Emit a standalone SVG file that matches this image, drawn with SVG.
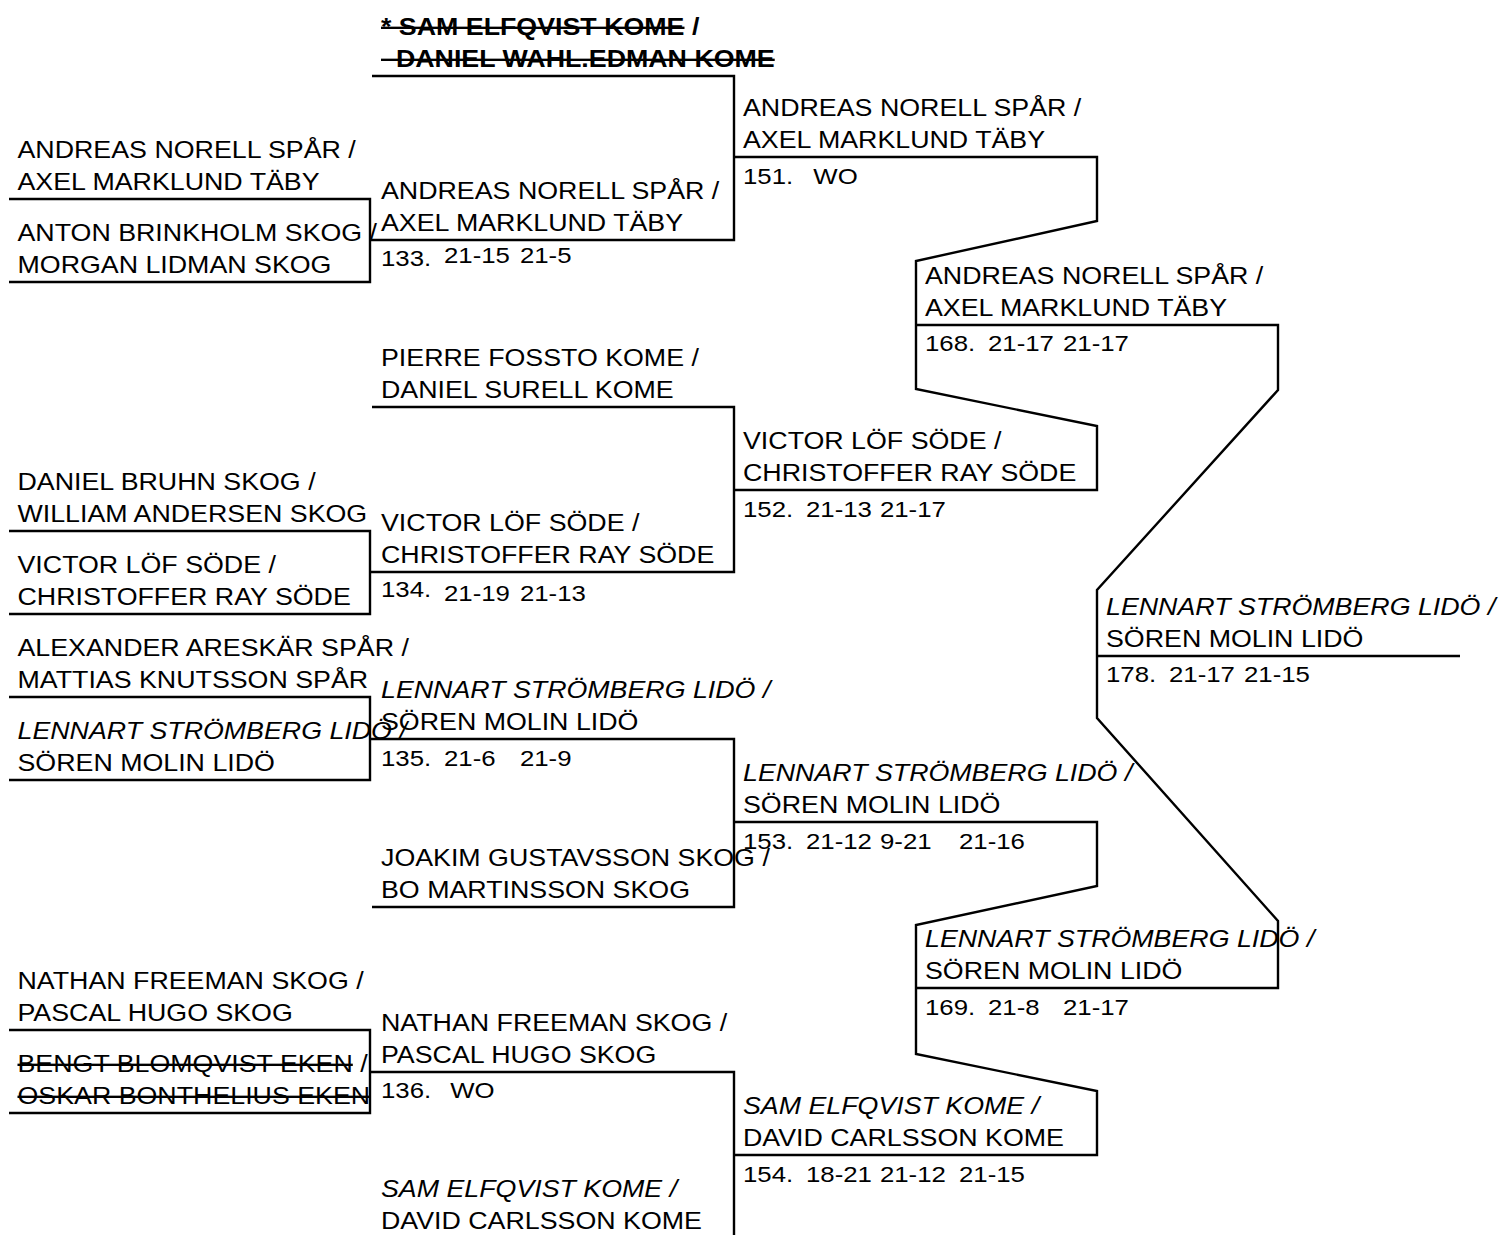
<svg xmlns="http://www.w3.org/2000/svg" width="1501" height="1235" viewBox="0 0 1501 1235">
<style>
text { font-family: "Liberation Sans", Arial, Helvetica, sans-serif; font-size: 23.6px; fill: #000; }
.s { font-size: 22.7px; }
.i { font-style: italic; }
.b { font-weight: bold; }
.x { text-decoration: line-through; }
.ln { fill: none; stroke: #000; stroke-width: 2.4; stroke-linejoin: miter; }
</style>
<rect x="0" y="0" width="1501" height="1235" fill="#fff"/>

<g id="connectors" class="ln">
  <path d="M9,199 H370 V282 H9"/>
  <path d="M9,531 H370 V614 H9"/>
  <path d="M9,697 H370 V780 H9"/>
  <path d="M9,1030 H370 V1113 H9"/>
  <path d="M372,76 H734 V240 H370"/>
  <path d="M372,407 H734 V572 H370"/>
  <path d="M370,739 H734 V907 H372"/>
  <path d="M370,1072 H734 V1235"/>
  <path d="M734,157 H1097 V221 L916,261 V389 L1097,426 V490 H734"/>
  <path d="M734,822 H1097 V886 L916,925 V1054 L1097,1091 V1155 H734"/>
  <path d="M916,325 H1278 V390 L1097,590 V718 L1278,921 V988 H916"/>
  <path d="M1097,656 H1460"/>
</g>

<g id="r1-1" transform="matrix(1.135,0,0,1,17.5,0)">
  <text x="0" y="158">ANDREAS NORELL SPÅR /</text>
  <text x="0" y="190">AXEL MARKLUND TÄBY</text>
</g>
<g id="r1-2" transform="matrix(1.135,0,0,1,17.5,0)">
  <text x="0" y="241">ANTON BRINKHOLM SKOG /</text>
  <text x="0" y="273">MORGAN LIDMAN SKOG</text>
</g>
<g id="r1-3" transform="matrix(1.135,0,0,1,17.5,0)">
  <text x="0" y="490">DANIEL BRUHN SKOG /</text>
  <text x="0" y="522">WILLIAM ANDERSEN SKOG</text>
</g>
<g id="r1-4" transform="matrix(1.135,0,0,1,17.5,0)">
  <text x="0" y="573">VICTOR LÖF SÖDE /</text>
  <text x="0" y="605">CHRISTOFFER RAY SÖDE</text>
</g>
<g id="r1-5" transform="matrix(1.135,0,0,1,17.5,0)">
  <text x="0" y="656">ALEXANDER ARESKÄR SPÅR /</text>
  <text x="0" y="688">MATTIAS KNUTSSON SPÅR</text>
</g>
<g id="r1-6" transform="matrix(1.135,0,0,1,17.5,0)">
  <text x="0" y="739" class="i">LENNART STRÖMBERG LIDÖ /</text>
  <text x="0" y="771">SÖREN MOLIN LIDÖ</text>
</g>
<g id="r1-7" transform="matrix(1.135,0,0,1,17.5,0)">
  <text x="0" y="989">NATHAN FREEMAN SKOG /</text>
  <text x="0" y="1021">PASCAL HUGO SKOG</text>
</g>
<g id="r1-8" transform="matrix(1.135,0,0,1,17.5,0)">
  <text x="0" y="1072"><tspan class="x">BENGT BLOMQVIST EKEN</tspan> /</text>
  <text x="0" y="1104" class="x">OSKAR BONTHELIUS EKEN</text>
</g>

<g id="r2-top" transform="matrix(1.135,0,0,1,381,0)">
  <text x="0" y="35" class="b" xml:space="preserve"><tspan class="x">* SAM ELFQVIST KOME</tspan> /</text>
  <text x="0" y="67" class="b x" xml:space="preserve">  DANIEL WAHL.EDMAN KOME</text>
</g>
<g id="m133" transform="matrix(1.135,0,0,1,381,0)">
  <text x="0" y="199">ANDREAS NORELL SPÅR /</text>
  <text x="0" y="231">AXEL MARKLUND TÄBY</text>
  <text class="s" x="0" y="266">133.<tspan x="55.5" y="263">21-15</tspan><tspan x="122.4" y="263">21-5</tspan></text>
</g>
<g id="r2-pierre" transform="matrix(1.135,0,0,1,381,0)">
  <text x="0" y="366">PIERRE FOSSTO KOME /</text>
  <text x="0" y="398">DANIEL SURELL KOME</text>
</g>
<g id="m134" transform="matrix(1.135,0,0,1,381,0)">
  <text x="0" y="531">VICTOR LÖF SÖDE /</text>
  <text x="0" y="563">CHRISTOFFER RAY SÖDE</text>
  <text class="s" x="0" y="597">134.<tspan x="55.5" y="601">21-19</tspan><tspan x="122.4" y="601">21-13</tspan></text>
</g>
<g id="m135" transform="matrix(1.135,0,0,1,381,0)">
  <text x="0" y="698" class="i">LENNART STRÖMBERG LIDÖ /</text>
  <text x="0" y="730">SÖREN MOLIN LIDÖ</text>
  <text class="s" x="0" y="766">135.<tspan x="55.5">21-6</tspan><tspan x="122.4">21-9</tspan></text>
</g>
<g id="r2-joakim" transform="matrix(1.135,0,0,1,381,0)">
  <text x="0" y="866">JOAKIM GUSTAVSSON SKOG /</text>
  <text x="0" y="898">BO MARTINSSON SKOG</text>
</g>
<g id="m136" transform="matrix(1.135,0,0,1,381,0)">
  <text x="0" y="1031">NATHAN FREEMAN SKOG /</text>
  <text x="0" y="1063">PASCAL HUGO SKOG</text>
  <text class="s" x="0" y="1098">136.<tspan x="61">WO</tspan></text>
</g>
<g id="r2-sam" transform="matrix(1.135,0,0,1,381,0)">
  <text x="0" y="1197" class="i">SAM ELFQVIST KOME /</text>
  <text x="0" y="1229">DAVID CARLSSON KOME</text>
</g>

<g id="m151" transform="matrix(1.135,0,0,1,743,0)">
  <text x="0" y="116">ANDREAS NORELL SPÅR /</text>
  <text x="0" y="148">AXEL MARKLUND TÄBY</text>
  <text class="s" x="0" y="184">151.<tspan x="62">WO</tspan></text>
</g>
<g id="m152" transform="matrix(1.135,0,0,1,743,0)">
  <text x="0" y="449">VICTOR LÖF SÖDE /</text>
  <text x="0" y="481">CHRISTOFFER RAY SÖDE</text>
  <text class="s" x="0" y="517">152.<tspan x="55.5">21-13</tspan><tspan x="120.7">21-17</tspan></text>
</g>
<g id="m153" transform="matrix(1.135,0,0,1,743,0)">
  <text x="0" y="781" class="i">LENNART STRÖMBERG LIDÖ /</text>
  <text x="0" y="813">SÖREN MOLIN LIDÖ</text>
  <text class="s" x="0" y="849">153.<tspan x="55.5">21-12</tspan><tspan x="120.7">9-21</tspan><tspan x="190.3">21-16</tspan></text>
</g>
<g id="m154" transform="matrix(1.135,0,0,1,743,0)">
  <text x="0" y="1114" class="i">SAM ELFQVIST KOME /</text>
  <text x="0" y="1146">DAVID CARLSSON KOME</text>
  <text class="s" x="0" y="1182">154.<tspan x="55.5">18-21</tspan><tspan x="120.7">21-12</tspan><tspan x="190.3">21-15</tspan></text>
</g>

<g id="m168" transform="matrix(1.135,0,0,1,925,0)">
  <text x="0" y="284">ANDREAS NORELL SPÅR /</text>
  <text x="0" y="316">AXEL MARKLUND TÄBY</text>
  <text class="s" x="0" y="351">168.<tspan x="55.5">21-17</tspan><tspan x="121.6">21-17</tspan></text>
</g>
<g id="m169" transform="matrix(1.135,0,0,1,925,0)">
  <text x="0" y="947" class="i">LENNART STRÖMBERG LIDÖ /</text>
  <text x="0" y="979">SÖREN MOLIN LIDÖ</text>
  <text class="s" x="0" y="1015">169.<tspan x="55.5">21-8</tspan><tspan x="121.6">21-17</tspan></text>
</g>

<g id="m178" transform="matrix(1.135,0,0,1,1106,0)">
  <text x="0" y="615" class="i">LENNART STRÖMBERG LIDÖ /</text>
  <text x="0" y="647">SÖREN MOLIN LIDÖ</text>
  <text class="s" x="0" y="682">178.<tspan x="55.5">21-17</tspan><tspan x="121.6">21-15</tspan></text>
</g>
</svg>
